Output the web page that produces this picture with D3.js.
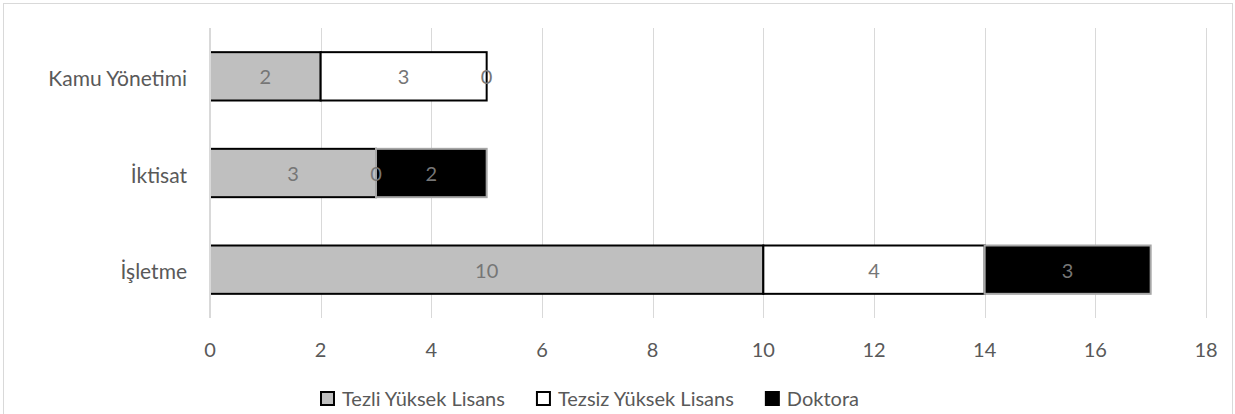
<!DOCTYPE html>
<html>
<head>
<meta charset="utf-8">
<script src="https://cdn.jsdelivr.net/npm/d3@7"></script>
<style>
  body { margin: 0; background: #fff; }
  svg { display: block; font-family: Lato, "Open Sans", sans-serif; }
</style>
</head>
<body>
<div id="wrapper"></div>
<script>
// Data
const categories = ['Kamu Yönetimi', 'İktisat', 'İşletme']
const seriesNames = ['Tezli Yüksek Lisans', 'Tezsiz Yüksek Lisans', 'Doktora']
const tezli = [2, 3, 10]
const tezsiz = [3, 0, 4]
const doktora = [0, 2, 3]
const xTicks = [0, 2, 4, 6, 8, 10, 12, 14, 16, 18]

const seriesFill = ['#bfbfbf', '#ffffff', '#000000']
const seriesStroke = ['#000000', '#000000', '#a6a6a6']

function drawChart() {
  const dimensions = {
    width: 1235,
    height: 414,
    margin: { top: 28, right: 29, bottom: 96, left: 210 },
  }
  dimensions.boundedWidth = dimensions.width - dimensions.margin.left - dimensions.margin.right
  dimensions.boundedHeight = dimensions.height - dimensions.margin.top - dimensions.margin.bottom

  const svg = d3.select('#wrapper').append('svg')
    .attr('width', dimensions.width)
    .attr('height', dimensions.height)

  // chart border
  svg.append('rect')
    .attr('x', 3.5).attr('y', 3.5)
    .attr('width', 1229).attr('height', 440)
    .attr('fill', 'none')
    .attr('stroke', '#d9d9d9')

  const bounds = svg.append('g')
    .attr('transform', `translate(${dimensions.margin.left},${dimensions.margin.top})`)

  // scales
  const xScale = d3.scaleLinear()
    .domain([0, 18])
    .range([0, dimensions.boundedWidth])

  const yScale = d3.scaleBand()
    .domain(categories)
    .range([0, dimensions.boundedHeight])
    .paddingInner(0.5)
    .paddingOuter(0.25)

  // gridlines
  bounds.selectAll('.grid')
    .data(xTicks)
    .enter().append('line')
    .attr('class', 'grid')
    .attr('x1', d => Math.round(xScale(d)) + 0.5)
    .attr('x2', d => Math.round(xScale(d)) + 0.5)
    .attr('y1', 0)
    .attr('y2', dimensions.boundedHeight)
    .attr('stroke', '#d9d9d9')

  // stack the series
  const rows = categories.map((c, i) => ({
    category: c,
    values: [tezli[i], tezsiz[i], doktora[i]],
  }))
  const segments = []
  rows.forEach(r => {
    let start = 0
    r.values.forEach((v, s) => {
      segments.push({ category: r.category, series: s, start, end: start + v, value: v })
      start += v
    })
  })

  bounds.selectAll('.seg')
    .data(segments.filter(d => d.value > 0))
    .enter().append('rect')
    .attr('class', 'seg')
    .attr('x', d => xScale(d.start))
    .attr('y', d => yScale(d.category))
    .attr('width', d => xScale(d.end) - xScale(d.start))
    .attr('height', yScale.bandwidth())
    .attr('fill', d => seriesFill[d.series])
    .attr('stroke', d => seriesStroke[d.series])
    .attr('stroke-width', 2)

  // zero line sits over the left edge of the bars
  bounds.append('line')
    .attr('x1', 0).attr('x2', 0)
    .attr('y1', 0).attr('y2', dimensions.boundedHeight)
    .attr('stroke', '#d9d9d9')
    .attr('stroke-width', 2)

  // data labels
  bounds.selectAll('.value')
    .data(segments)
    .enter().append('text')
    .attr('class', 'value')
    .attr('x', d => xScale((d.start + d.end) / 2))
    .attr('y', d => yScale(d.category) + yScale.bandwidth() / 2)
    .attr('text-anchor', 'middle')
    .attr('dominant-baseline', 'central')
    .attr('fill', '#767676')
    .style('font-size', '20px')
    .text(d => d.value)

  // category labels
  bounds.selectAll('.cat')
    .data(categories)
    .enter().append('text')
    .attr('class', 'cat')
    .attr('x', -23)
    .attr('y', d => yScale(d) + yScale.bandwidth() / 2 + 1)
    .attr('text-anchor', 'end')
    .attr('dominant-baseline', 'central')
    .attr('fill', '#595959')
    .style('font-size', '21px')
    .text(d => d)

  // x tick labels
  bounds.selectAll('.tick-label')
    .data(xTicks)
    .enter().append('text')
    .attr('class', 'tick-label')
    .attr('x', d => xScale(d))
    .attr('y', dimensions.boundedHeight + 31)
    .attr('text-anchor', 'middle')
    .attr('dominant-baseline', 'central')
    .attr('fill', '#595959')
    .style('font-size', '20px')
    .text(d => d)

  // legend
  const legend = svg.append('g')
    .attr('transform', `translate(320, 398)`)
  let lx = 0
  seriesNames.forEach((name, i) => {
    const item = legend.append('g').attr('transform', `translate(${lx},0)`)
    item.append('rect')
      .attr('x', 1).attr('y', -6)
      .attr('width', 13).attr('height', 13)
      .attr('fill', seriesFill[i])
      .attr('stroke', '#000')
      .attr('stroke-width', 2)
    const label = item.append('text')
      .attr('x', 22)
      .attr('y', 0)
      .attr('dominant-baseline', 'central')
      .attr('fill', '#595959')
      .style('font-size', '20px')
      .text(name)
    lx += 22 + label.node().getComputedTextLength() + 31
  })
}
drawChart()
</script>
</body>
</html>
